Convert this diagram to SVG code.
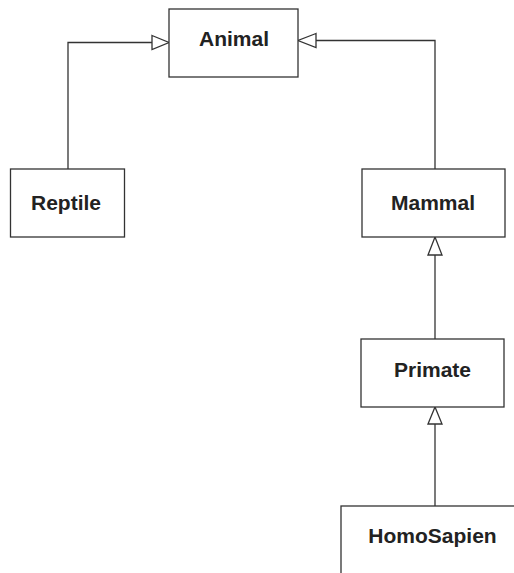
<svg xmlns="http://www.w3.org/2000/svg" width="514" height="573" viewBox="0 0 514 573">
  <style>
    .box { fill: #ffffff; stroke: #333333; stroke-width: 1.3; }
    .label { font-family: "Liberation Sans", Arial, sans-serif; font-weight: bold; font-size: 21px; fill: #222222; text-anchor: middle; }
    .edge { fill: none; stroke: #333333; stroke-width: 1.3; }
    .head { fill: #ffffff; stroke: #333333; stroke-width: 1.3; }
  </style>
  <rect width="514" height="573" fill="#ffffff"/>

  <g id="connectors">
    <!-- Reptile -> Animal -->
    <polyline class="edge" points="68,169 68,42.5 152,42.5"/>
    <polygon class="head" points="152,35.5 169,42.5 152,49.5"/>
    <!-- Mammal -> Animal -->
    <polyline class="edge" points="435,169 435,40.5 316,40.5"/>
    <polygon class="head" points="316,33.5 298,40.5 316,47.5"/>
    <!-- Primate -> Mammal -->
    <line class="edge" x1="435" y1="339" x2="435" y2="255"/>
    <polygon class="head" points="428,255 435,237 442,255"/>
    <!-- HomoSapien -> Primate -->
    <line class="edge" x1="435" y1="506" x2="435" y2="424"/>
    <polygon class="head" points="428,424 435,407 442,424"/>
  </g>

  <g id="animal">
    <rect class="box" x="169" y="9" width="129" height="68"/>
    <text class="label" x="234" y="46">Animal</text>
  </g>

  <g id="reptile">
    <rect class="box" x="10.5" y="169" width="114" height="68"/>
    <text class="label" x="66" y="209.5">Reptile</text>
  </g>

  <g id="mammal">
    <rect class="box" x="362" y="169" width="143" height="68"/>
    <text class="label" x="433" y="209.5">Mammal</text>
  </g>

  <g id="primate">
    <rect class="box" x="361" y="339" width="143" height="68"/>
    <text class="label" x="432.5" y="377">Primate</text>
  </g>

  <g id="homosapien">
    <rect class="box" x="341" y="506" width="190" height="90"/>
    <text class="label" x="432.5" y="543">HomoSapien</text>
  </g>
</svg>
